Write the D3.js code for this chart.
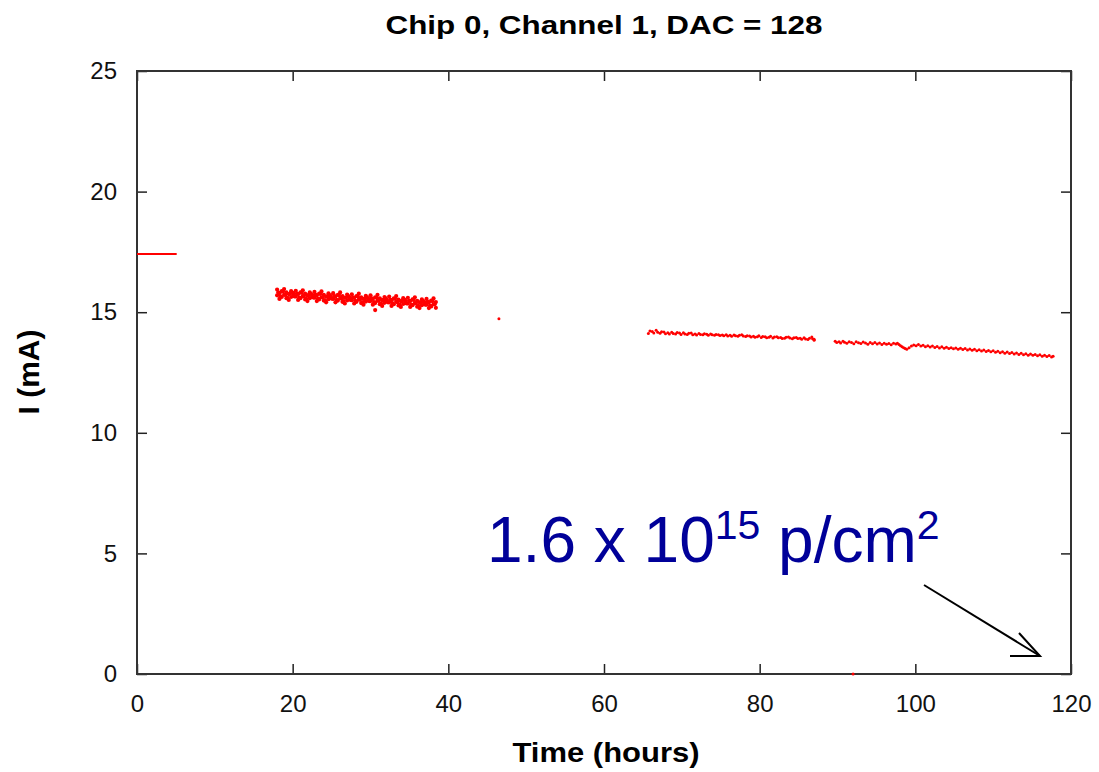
<!DOCTYPE html>
<html>
<head>
<meta charset="utf-8">
<script src="https://cdn.jsdelivr.net/npm/d3@7"></script>
<style>
  body { margin: 0; background: #fff; }
  svg text { font-family: "Liberation Sans", Arial, sans-serif; }
</style>
</head>
<body>
<div id="chart"></div>
<script>
// start of the run: flat reading at 17.4 mA
const plateau = [[0, 17.41], [5.1, 17.41]];

// second run, 18 - 38.4 h (dense noisy band), outer readings
const run2 = [
  [18.0,15.94],[18.0,15.70],[18.3,15.79],[18.3,15.55],[18.6,15.87],[18.6,15.63],
  [18.9,15.72],[18.9,15.96],[19.2,15.82],[19.2,15.58],[19.5,15.51],[19.5,15.75],
  [19.8,15.87],[19.8,15.63],[20.1,15.77],[20.1,15.69],[20.4,15.89],[20.4,15.65],
  [20.7,15.75],[20.7,15.51],[21.0,15.82],[21.0,15.58],[21.3,15.67],[21.3,15.91],
  [21.6,15.77],[21.6,15.53],[21.9,15.46],[21.9,15.70],[22.2,15.82],[22.2,15.58],
  [22.5,15.72],[22.5,15.64],[22.8,15.84],[22.8,15.60],[23.1,15.70],[23.1,15.46],
  [23.4,15.77],[23.4,15.53],[23.7,15.62],[23.7,15.86],[24.0,15.72],[24.0,15.48],
  [24.3,15.41],[24.3,15.65],[24.6,15.78],[24.6,15.54],[24.9,15.67],[24.9,15.59],
  [25.2,15.79],[25.2,15.55],[25.5,15.65],[25.5,15.41],[25.8,15.72],[25.8,15.48],
  [26.1,15.58],[26.1,15.82],[26.4,15.67],[26.4,15.43],[26.7,15.36],[26.7,15.60],
  [27.0,15.73],[27.0,15.49],[27.3,15.62],[27.3,15.54],[27.6,15.74],[27.6,15.50],
  [27.9,15.60],[27.9,15.36],[28.2,15.67],[28.2,15.43],[28.5,15.53],[28.5,15.77],
  [28.8,15.62],[28.8,15.38],[29.1,15.31],[29.1,15.55],[29.4,15.68],[29.4,15.44],
  [29.7,15.57],[29.7,15.49],[30.0,15.70],[30.0,15.46],[30.3,15.55],[30.3,15.31],
  [30.6,15.09],[30.6,15.62],[30.6,15.38],[30.9,15.48],[30.9,15.72],[31.2,15.57],
  [31.2,15.33],[31.5,15.26],[31.5,15.50],[31.8,15.63],[31.8,15.39],[32.1,15.52],
  [32.1,15.44],[32.4,15.65],[32.4,15.41],[32.7,15.50],[32.7,15.26],[33.0,15.57],
  [33.0,15.33],[33.3,15.43],[33.3,15.67],[33.6,15.52],[33.6,15.28],[33.9,15.22],
  [33.9,15.46],[34.2,15.58],[34.2,15.34],[34.5,15.47],[34.5,15.39],[34.8,15.60],
  [34.8,15.36],[35.1,15.46],[35.1,15.22],[35.4,15.53],[35.4,15.29],[35.7,15.38],
  [35.7,15.62],[36.0,15.47],[36.0,15.23],[36.3,15.17],[36.3,15.41],[36.6,15.53],
  [36.6,15.29],[36.9,15.42],[36.9,15.34],[37.2,15.55],[37.2,15.31],[37.5,15.41],
  [37.5,15.17],[37.8,15.48],[37.8,15.24],[38.1,15.33],[38.1,15.57],[38.4,15.42],
  [38.4,15.18]
];

// second run, readings in the middle of the band
const run2Mid = [
  [18.15,15.82],[18.45,15.66],[18.75,15.86],[19.05,15.72],[19.35,15.60],[19.65,15.76],
  [19.95,15.81],[20.25,15.65],[20.55,15.77],[20.85,15.61],[21.15,15.81],[21.45,15.67],
  [21.75,15.55],[22.05,15.71],[22.35,15.76],[22.65,15.61],[22.95,15.72],[23.25,15.56],
  [23.55,15.76],[23.85,15.62],[24.15,15.50],[24.45,15.66],[24.75,15.71],[25.05,15.56],
  [25.35,15.67],[25.65,15.51],[25.95,15.71],[26.25,15.57],[26.55,15.46],[26.85,15.61],
  [27.15,15.66],[27.45,15.51],[27.75,15.62],[28.05,15.47],[28.35,15.66],[28.65,15.52],
  [28.95,15.41],[29.25,15.56],[29.55,15.61],[29.85,15.46],[30.15,15.57],[30.45,15.42],
  [30.75,15.61],[31.05,15.47],[31.35,15.36],[31.65,15.51],[31.95,15.57],[32.25,15.41],
  [32.55,15.52],[32.85,15.37],[33.15,15.56],[33.45,15.42],[33.75,15.31],[34.05,15.46],
  [34.35,15.52],[34.65,15.36],[34.95,15.47],[35.25,15.32],[35.55,15.51],[35.85,15.38],
  [36.15,15.26],[36.45,15.41],[36.75,15.47],[37.05,15.31],[37.35,15.43],[37.65,15.27],
  [37.95,15.46],[38.25,15.33]
];

// lone reading near 46 h
const single = [[46.5, 14.73]];

// third run, 65.7 - 87 h
const run3 = [
  [65.7,14.12],[65.9,14.22],[66.2,14.20],[66.4,14.14],[66.7,14.25],[66.9,14.17],
  [67.2,14.13],[67.4,14.19],[67.7,14.18],[67.9,14.11],[68.2,14.15],[68.4,14.10],
  [68.7,14.17],[68.9,14.12],[69.2,14.10],[69.4,14.16],[69.7,14.14],[69.9,14.08],
  [70.2,14.15],[70.4,14.10],[70.7,14.08],[70.9,14.13],[71.2,14.14],[71.4,14.07],
  [71.7,14.10],[71.9,14.05],[72.2,14.12],[72.4,14.08],[72.7,14.06],[72.9,14.11],
  [73.2,14.09],[73.4,14.04],[73.7,14.10],[73.9,14.06],[74.2,14.04],[74.4,14.08],
  [74.7,14.07],[74.9,14.03],[75.2,14.05],[75.4,14.02],[75.7,14.06],[75.9,14.01],
  [76.2,14.04],[76.4,14.00],[76.7,14.05],[76.9,14.02],[77.2,14.00],[77.4,14.04],
  [77.7,14.06],[77.9,14.01],[78.2,13.99],[78.4,14.02],[78.7,14.01],[78.9,13.97],
  [79.2,14.00],[79.4,13.96],[79.7,13.98],[79.9,14.02],[80.2,13.95],[80.4,13.99],
  [80.7,13.98],[80.9,13.94],[81.2,13.96],[81.4,14.00],[81.7,13.93],[81.9,13.97],
  [82.2,13.98],[82.4,13.94],[82.7,13.95],[82.9,13.91],[83.2,13.92],[83.4,13.96],
  [83.7,13.97],[83.9,13.93],[84.2,13.90],[84.4,13.94],[84.7,13.95],[84.9,13.91],
  [85.2,13.92],[85.4,13.88],[85.7,13.94],[85.9,13.89],[86.2,13.87],[86.4,13.92],
  [86.7,13.97],[86.8,13.90],[87.0,13.84],[87.0,13.88]
];

// fourth run, 89.7 - 117.7 h
const run4 = [
  [89.7,13.80],[89.9,13.74],[90.2,13.78],[90.4,13.72],[90.7,13.80],[90.9,13.75],
  [91.2,13.71],[91.5,13.77],[91.8,13.74],[92.1,13.69],[92.4,13.78],[92.7,13.73],
  [93.0,13.70],[93.3,13.76],[93.6,13.72],[93.9,13.67],[94.2,13.74],[94.5,13.69],
  [94.8,13.74],[95.1,13.68],[95.4,13.72],[95.7,13.66],[96.0,13.71],[96.3,13.67],
  [96.6,13.70],[96.9,13.65],[97.2,13.71],[97.5,13.68],[97.7,13.71],[97.9,13.66],
  [98.1,13.61],[98.3,13.57],[98.5,13.53],[98.7,13.49],[98.9,13.46],[99.2,13.53],
  [99.5,13.60],[99.8,13.64],[100.1,13.61],[100.4,13.66],[100.7,13.60],[101.0,13.63],
  [101.3,13.57],[101.6,13.61],[101.9,13.56],[102.2,13.60],[102.5,13.54],[102.8,13.58],
  [103.1,13.52],[103.4,13.57],[103.7,13.51],[104.0,13.55],[104.3,13.49],[104.6,13.53],
  [104.9,13.48],[105.2,13.52],[105.5,13.46],[105.8,13.51],[106.1,13.45],[106.4,13.49],
  [106.7,13.43],[107.0,13.47],[107.3,13.42],[107.6,13.46],[107.9,13.40],[108.2,13.44],
  [108.5,13.39],[108.8,13.43],[109.1,13.37],[109.4,13.41],[109.7,13.36],[110.0,13.40],
  [110.3,13.34],[110.6,13.38],[110.9,13.32],[111.2,13.36],[111.5,13.30],[111.8,13.35],
  [112.1,13.29],[112.4,13.33],[112.7,13.27],[113.0,13.31],[113.3,13.25],[113.6,13.30],
  [113.9,13.24],[114.2,13.28],[114.5,13.22],[114.8,13.27],[115.1,13.21],[115.4,13.25],
  [115.7,13.19],[116.0,13.24],[116.3,13.17],[116.6,13.22],[116.9,13.16],[117.2,13.20],
  [117.5,13.14],[117.7,13.17]
];

// stray point sitting on the x axis
const stray = [[92.0, 0.0]];

const xTicks = [0, 20, 40, 60, 80, 100, 120];
const yTicks = [0, 5, 10, 15, 20, 25];

const width = 1099, height = 772;
const m = {left: 137, right: 1071, top: 71, bottom: 674};

const svg = d3.select("#chart").append("svg")
  .attr("width", width)
  .attr("height", height);

const x = d3.scaleLinear().domain([0, 120]).range([m.left, m.right]);
const y = d3.scaleLinear().domain([0, 25]).range([m.bottom, m.top]);

// axes with inward ticks on all four sides
svg.append("g")
  .attr("class", "axis")
  .attr("transform", "translate(0," + m.bottom + ")")
  .call(d3.axisBottom(x).tickValues(xTicks).tickSizeInner(-10).tickSizeOuter(0).tickPadding(21));
svg.append("g")
  .attr("class", "axis")
  .attr("transform", "translate(" + m.left + ",0)")
  .call(d3.axisLeft(y).tickValues(yTicks).tickSizeInner(-10).tickSizeOuter(0).tickPadding(20));
svg.append("g")
  .attr("class", "axis")
  .attr("transform", "translate(0," + m.top + ")")
  .call(d3.axisTop(x).tickValues(xTicks).tickSizeInner(-10).tickSizeOuter(0).tickFormat(""));
svg.append("g")
  .attr("class", "axis")
  .attr("transform", "translate(" + m.right + ",0)")
  .call(d3.axisRight(y).tickValues(yTicks).tickSizeInner(-10).tickSizeOuter(0).tickFormat(""));

svg.selectAll(".axis .domain").remove();
svg.selectAll(".axis line").attr("stroke", "#222").attr("stroke-width", 1.5);
svg.selectAll(".axis text")
  .attr("font-size", 24)
  .attr("fill", "#111")
  .style("font-family", "'Liberation Sans', Arial, sans-serif");

// frame
svg.append("rect")
  .attr("x", m.left)
  .attr("y", m.top)
  .attr("width", m.right - m.left)
  .attr("height", m.bottom - m.top)
  .attr("fill", "none")
  .attr("stroke", "#333")
  .attr("stroke-width", 2);

// data
const line = d3.line().x(d => x(d[0])).y(d => y(d[1]));
svg.append("path")
  .datum(plateau)
  .attr("d", line)
  .attr("fill", "none")
  .attr("stroke", "#ff0000")
  .attr("stroke-width", 2);

const dots = svg.append("g").attr("class", "dots");
[run2, run2Mid, single, run3, run4, stray].forEach(series => {
  const dense = series === run2 || series === run2Mid;
  dots.selectAll(null)
    .data(series)
    .enter()
    .append("circle")
    .attr("cx", d => x(d[0]))
    .attr("cy", d => y(d[1]))
    .attr("r", dense ? 2.1 : 1.5)
    .attr("fill", "#ff0000");
});

// titles
svg.append("text")
  .text("Chip 0, Channel 1, DAC = 128")
  .attr("x", 604)
  .attr("y", 34)
  .attr("text-anchor", "middle")
  .attr("font-size", 26)
  .attr("font-weight", "bold")
  .attr("textLength", 437)
  .attr("lengthAdjust", "spacingAndGlyphs");

svg.append("text")
  .text("Time (hours)")
  .attr("x", 606)
  .attr("y", 762)
  .attr("text-anchor", "middle")
  .attr("font-size", 27)
  .attr("font-weight", "bold")
  .attr("textLength", 187)
  .attr("lengthAdjust", "spacingAndGlyphs");

svg.append("text")
  .text("I (mA)")
  .attr("transform", "translate(39,372) rotate(-90)")
  .attr("text-anchor", "middle")
  .attr("font-size", 29)
  .attr("font-weight", "bold")
  .attr("textLength", 85)
  .attr("lengthAdjust", "spacingAndGlyphs");

// fluence annotation
const note = svg.append("text")
  .attr("x", 487)
  .attr("y", 562)
  .attr("fill", "#000099")
  .attr("font-size", 64);
note.append("tspan").text("1.6 x 10");
note.append("tspan").text("15").attr("font-size", 41).attr("dy", -23);
note.append("tspan").text(" p/cm").attr("dy", 23);
note.append("tspan").text("2").attr("font-size", 41).attr("dy", -23);

const arrow = svg.append("g")
  .attr("stroke", "#000")
  .attr("stroke-width", 2)
  .attr("fill", "none");
arrow.append("line").attr("x1", 924).attr("y1", 585).attr("x2", 1040).attr("y2", 656);
arrow.append("polyline").attr("points", "1019,633 1040,656 1010,656");
</script>
</body>
</html>
